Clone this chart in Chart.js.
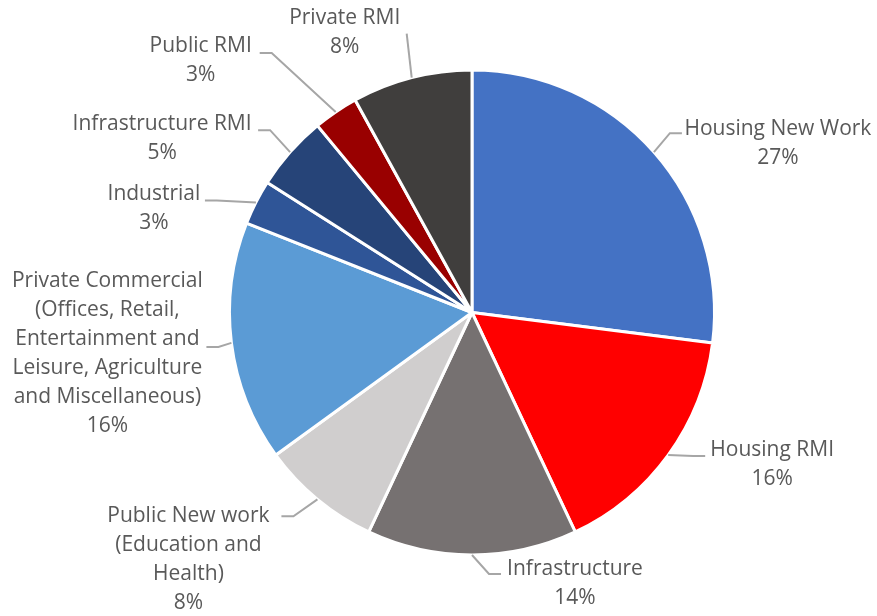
<!DOCTYPE html>
<html>
<head>
<meta charset="utf-8">
<script src="https://cdn.jsdelivr.net/npm/chart.js@4.4.1/dist/chart.umd.min.js"></script>
<style>
  html, body { margin: 0; padding: 0; background: #fff; }
  canvas { display: block; }
</style>
</head>
<body>
<canvas id="chart-mix" width="877" height="616"></canvas>
<script>
  // Sector names (one entry per text line) and share of output, %
  const categories = [
    ["Housing New Work"],
    ["Housing RMI"],
    ["Infrastructure"],
    ["Public New work", "(Education and", "Health)"],
    ["Private Commercial", "(Offices, Retail,", "Entertainment and", "Leisure, Agriculture", "and Miscellaneous)"],
    ["Industrial"],
    ["Infrastructure RMI"],
    ["Public RMI"],
    ["Private RMI"]
  ];
  const shares = [27, 16, 14, 8, 16, 3, 5, 3, 8];
  const sliceColours = ["#4472C4", "#FF0000", "#767171", "#D0CECE", "#5B9BD5", "#2F5597", "#264478", "#990000", "#403E3D"];

  // Where each label sits, relative to the point on the rim at the slice's mid angle:
  // text = centre of the text block, end = where the leader line meets the text
  const labelLayout = [
    { text: [124, -9],     end: [28, -19] },
    { text: [104, 9],      end: [37, 1] },
    { text: [103, 29],     end: [29, 19] },
    { text: [-129, 60],    end: [-36, 17] },
    { text: [-124, 11],    end: [-25, 4] },
    { text: [-102, 6],     end: [-51, -2] },
    { text: [-128, -14],   end: [-32, -22] },
    { text: [-135, -51],   end: [-76, -59] },
    { text: [-67, -45],    end: [-5, -44], straight: true }
  ];

  const FONT = '21px "Open Sans", sans-serif';
  const LINE_H = 29;

  const outsideLabels = {
    id: "outsideLabels",
    afterDatasetsDraw(chart) {
      const ctx = chart.ctx;
      const meta = chart.getDatasetMeta(0);
      ctx.save();
      meta.data.forEach((arc, i) => {
        const p = arc.getProps(["x", "y", "startAngle", "endAngle", "outerRadius"], true);
        const mid = (p.startAngle + p.endAngle) / 2;
        const ax = p.x + Math.cos(mid) * p.outerRadius;
        const ay = p.y + Math.sin(mid) * p.outerRadius;
        const lay = labelLayout[i];
        const ex = ax + lay.end[0];
        const ey = ay + lay.end[1];

        // leader line
        ctx.strokeStyle = "#A6A6A6";
        ctx.lineWidth = 2;
        ctx.beginPath();
        ctx.moveTo(ax, ay);
        if (!lay.straight) {
          const dir = lay.end[0] >= 0 ? 1 : -1;
          ctx.lineTo(ex - dir * 12, ey);
        }
        ctx.lineTo(ex, ey);
        ctx.stroke();

        // label text + percentage
        const lines = categories[i].concat([shares[i] + "%"]);
        const cx = ax + lay.text[0];
        const cy = ay + lay.text[1];
        const top = cy - (lines.length - 1) * LINE_H / 2;
        ctx.fillStyle = "#595959";
        ctx.font = FONT;
        ctx.textAlign = "center";
        ctx.textBaseline = "middle";
        lines.forEach((t, k) => ctx.fillText(t, cx, top + k * LINE_H));
      });
      ctx.restore();
    }
  };

  new Chart(document.getElementById("chart-mix"), {
    type: "pie",
    data: {
      labels: categories.map(c => c.join(" ")),
      datasets: [{
        data: shares,
        backgroundColor: sliceColours,
        borderColor: "#FFFFFF",
        borderWidth: 3
      }]
    },
    options: {
      responsive: false,
      animation: false,
      layout: { padding: { left: 228, right: 161, top: 68, bottom: 59 } },
      plugins: { legend: { display: false }, tooltip: { enabled: false } }
    },
    plugins: [outsideLabels]
  });
</script>
</body>
</html>
